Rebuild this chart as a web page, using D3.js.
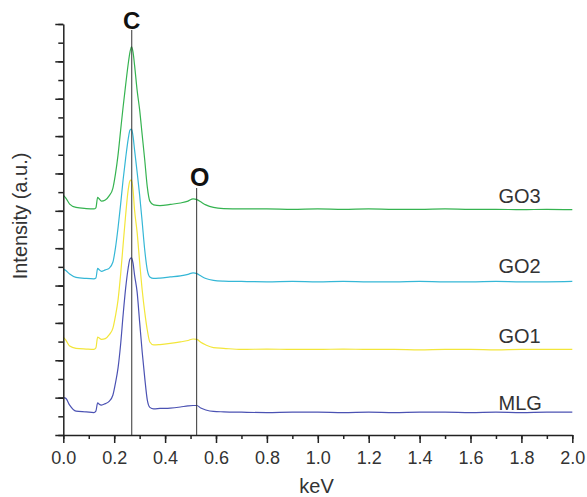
<!DOCTYPE html>
<html><head><meta charset="utf-8">
<script src="https://cdn.jsdelivr.net/npm/d3@7"></script>
<style>body{margin:0;background:#fff}svg{display:block}</style>
</head><body>
<svg id="chart" width="587" height="497"></svg>
<script>
// Energy grid (keV)
const energy = [0.000,0.010,0.025,0.050,0.090,0.120,0.128,0.135,0.140,0.150,0.165,0.180,0.195,0.205,0.215,0.225,0.235,0.245,0.255,0.262,0.268,0.274,0.280,0.290,0.300,0.310,0.320,0.330,0.340,0.355,0.380,0.420,0.460,0.490,0.510,0.525,0.540,0.560,0.590,0.630,0.7,0.8,0.9,1.0,1.1,1.2,1.3,1.4,1.5,1.6,1.7,1.8,1.9,2.0];
// Intensity (a.u., stacked with offsets as in the figure)
const MLG = [1.00,0.98,0.80,0.64,0.62,0.60,0.64,0.86,0.83,0.80,0.84,0.90,1.07,1.39,1.79,2.41,3.21,3.93,4.47,4.71,4.74,4.60,4.28,3.83,3.02,2.22,1.53,0.94,0.74,0.70,0.71,0.72,0.75,0.78,0.79,0.79,0.72,0.67,0.63,0.62,0.61,0.60,0.61,0.61,0.60,0.61,0.60,0.61,0.61,0.60,0.61,0.60,0.61,0.61];
const GO1 = [2.62,2.54,2.38,2.32,2.30,2.29,2.33,2.62,2.60,2.56,2.58,2.68,2.86,3.19,3.61,4.28,5.09,5.89,6.56,6.80,6.83,6.56,6.02,5.43,4.63,3.88,3.29,2.81,2.49,2.41,2.42,2.45,2.49,2.53,2.57,2.56,2.48,2.41,2.34,2.32,2.29,2.30,2.29,2.29,2.30,2.29,2.29,2.28,2.29,2.29,2.28,2.29,2.29,2.29];
const GO2 = [4.44,4.40,4.31,4.22,4.19,4.18,4.20,4.46,4.43,4.38,4.42,4.46,4.63,5.01,5.54,6.16,6.83,7.41,7.92,8.16,8.19,8.00,7.63,7.04,6.42,5.70,4.95,4.42,4.23,4.19,4.20,4.23,4.26,4.30,4.34,4.32,4.26,4.19,4.14,4.12,4.11,4.10,4.11,4.10,4.11,4.10,4.10,4.11,4.10,4.10,4.11,4.10,4.10,4.11];
const GO3 = [6.42,6.34,6.18,6.09,6.06,6.05,6.08,6.36,6.33,6.26,6.29,6.40,6.61,6.99,7.49,8.14,8.78,9.37,9.93,10.25,10.39,10.25,9.90,9.23,8.70,8.03,7.36,6.64,6.26,6.16,6.14,6.17,6.21,6.26,6.32,6.30,6.24,6.16,6.09,6.06,6.05,6.05,6.04,6.05,6.04,6.05,6.04,6.04,6.05,6.04,6.04,6.03,6.04,6.03];
const seriesNames = ["MLG","GO1","GO2","GO3"];
const seriesValues = [MLG, GO1, GO2, GO3];
const seriesColors = ["#4b52b3","#f3e63a","#35b7d6","#35b350"];
const labelLevels = [0.67, 2.46, 4.34, 6.20];
const xTickValues = [0,0.2,0.4,0.6,0.8,1.0,1.2,1.4,1.6,1.8,2.0];
const xMinorValues = d3.range(0, 2.0001, 0.1);
const yMajorValues = d3.range(0, 11.001, 1);
const yMinorValues = d3.range(0, 11.001, 0.5);
const peakNames = ["C","O"];
const peakEnergy = [0.269, 0.524];
const peakTop = [10.84, 6.61];

const svg = d3.select("#chart");
const x = d3.scaleLinear().domain([0, 2]).range([63.3, 572.3]);
const y = d3.scaleLinear().domain([0, 11]).range([435, 24]);
const font = "'Liberation Sans', Arial, sans-serif";

// series
const line = d3.line().x(d => x(d[0])).y(d => y(d[1])).curve(d3.curveMonotoneX);
seriesValues.forEach((vals, i) => {
  svg.append("path")
    .datum(energy.map((e, j) => [e, vals[j]]))
    .attr("fill", "none")
    .attr("stroke", seriesColors[i])
    .attr("stroke-width", 1.2)
    .attr("d", line);
});

// peak marker lines
peakNames.forEach((p, i) => {
  svg.append("line")
    .attr("x1", x(peakEnergy[i])).attr("x2", x(peakEnergy[i]))
    .attr("y1", y(peakTop[i])).attr("y2", y(0))
    .attr("stroke", "#333").attr("stroke-width", 1);
});
svg.append("text").attr("x", x(peakEnergy[0])).attr("y", 29)
  .attr("text-anchor","middle").attr("font-family", font).attr("font-weight","bold")
  .attr("font-size", 24).attr("fill","#111").text(peakNames[0]);
svg.append("text").attr("x", x(peakEnergy[1]) + 3).attr("y", 186)
  .attr("text-anchor","middle").attr("font-family", font).attr("font-weight","bold")
  .attr("font-size", 25).attr("fill","#111").text(peakNames[1]);

// axes
const axisColor = "#222";
const gxMinor = svg.append("g").attr("transform", `translate(0,${y(0)})`)
  .call(d3.axisBottom(x).tickValues(xMinorValues).tickSize(4).tickFormat(""));
const gx = svg.append("g").attr("transform", `translate(0,${y(0)})`)
  .call(d3.axisBottom(x).tickValues(xTickValues).tickSize(8).tickSizeOuter(0).tickPadding(8).tickFormat(d3.format(".1f")));
const gyMinor = svg.append("g").attr("transform", `translate(${x(0)},0)`)
  .call(d3.axisLeft(y).tickValues(yMinorValues).tickSize(5).tickFormat(""));
const gy = svg.append("g").attr("transform", `translate(${x(0)},0)`)
  .call(d3.axisLeft(y).tickValues(yMajorValues).tickSize(8).tickSizeOuter(0).tickFormat(""));
[gxMinor, gx, gyMinor, gy].forEach(g => {
  g.selectAll("path").attr("stroke", axisColor).attr("stroke-width", 1.5);
  g.selectAll("line").attr("stroke", axisColor).attr("stroke-width", 1.5);
});
gxMinor.select(".domain").remove();
gyMinor.select(".domain").remove();
gx.selectAll("text").attr("font-family", font).attr("font-size", 18).attr("fill", "#333");

// axis titles
svg.append("text").attr("x", 316.5).attr("y", 493).attr("text-anchor","middle")
  .attr("font-family", font).attr("font-size", 20).attr("fill","#333").text("keV");
svg.append("text").attr("transform", "translate(27,216) rotate(-90)").attr("text-anchor","middle")
  .attr("font-family", font).attr("font-size", 20).attr("fill","#333").text("Intensity (a.u.)");

// series labels
seriesNames.forEach((n, i) => {
  svg.append("text").attr("x", x(1.71)).attr("y", y(labelLevels[i]))
    .attr("font-family", font).attr("font-size", 20).attr("fill", "#333").text(n);
});
</script>
</body></html>
